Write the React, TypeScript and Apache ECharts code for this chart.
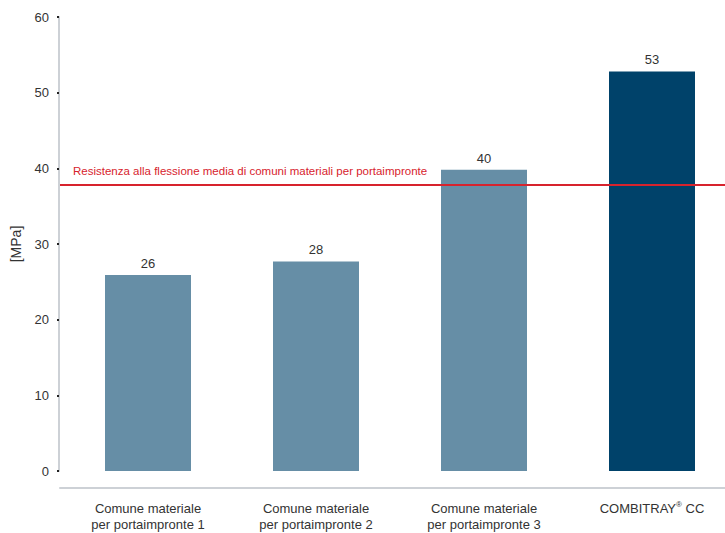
import React, { useEffect, useRef } from "react";
import * as echarts from "echarts";

const categories = [
  "Comune materiale\nper portaimpronte 1",
  "Comune materiale\nper portaimpronte 2",
  "Comune materiale\nper portaimpronte 3",
  "COMBITRAY® CC",
];
const values = [25.9, 27.7, 39.8, 52.8];
const labels = ["26", "28", "40", "53"];
const barColors = ["#668ea6", "#668ea6", "#668ea6", "#00426a"];
const referenceValue = 37.8;
const referenceLabel = "Resistenza alla flessione media di comuni materiali per portaimpronte";
const yTicks = { min: 0, max: 60, interval: 10 };

const FONT = "'Liberation Sans', Arial, sans-serif";

export default function App() {
  const ref = useRef<HTMLDivElement>(null);
  useEffect(() => {
    const chart = echarts.init(ref.current!, null, { renderer: "svg" });
    chart.setOption({
      animation: false,
      textStyle: { fontFamily: FONT },
      grid: [
        { left: 64, width: 672, top: 17, bottom: 62, outerBoundsMode: "none", containLabel: false },
        { left: 60, right: 0, top: 17, bottom: 62, outerBoundsMode: "none", containLabel: false },
      ],
      xAxis: [
        {
          type: "category",
          gridIndex: 0,
          data: categories,
          offset: 17,
          axisLine: { show: false },
          axisTick: { show: false },
          axisLabel: {
            interval: 0,
            color: "#333",
            fontSize: 13,
            lineHeight: 16,
            margin: 12,
            fontFamily: FONT,
            formatter: (v: string) =>
              v.includes("®") ? v.split("®").map((s) => `{a|${s}}`).join("{sup|®}") : v,
            rich: {
              a: { color: "#333", fontSize: 13, fontFamily: FONT, lineHeight: 16 },
              sup: { color: "#333", fontSize: 8, fontFamily: FONT, verticalAlign: "top", lineHeight: 16, padding: [0, 0, 6, 0] },
            },
          },
        },
        {
          type: "value",
          gridIndex: 1,
          min: 0,
          max: 1,
          offset: 17,
          axisLine: { show: true, onZero: false, lineStyle: { color: "#cdd1d6", width: 2 } },
          axisTick: { show: false },
          axisLabel: { show: false },
          splitLine: { show: false },
        },
      ],
      yAxis: [
        {
          type: "value",
          gridIndex: 0,
          min: yTicks.min,
          max: yTicks.max,
          interval: yTicks.interval,
          show: false,
        },
        {
          type: "value",
          gridIndex: 1,
          min: yTicks.min,
          max: yTicks.max,
          interval: yTicks.interval,
          offset: 1,
          name: "[MPa]",
          nameLocation: "middle",
          nameGap: 36,
          nameTextStyle: { color: "#333", fontSize: 14, fontFamily: FONT },
          axisLine: { show: true, onZero: false, lineStyle: { color: "#cdd1d6", width: 2 } },
          axisTick: { show: true, length: 2, lineStyle: { color: "#222", width: 2 } },
          axisLabel: { color: "#333", fontSize: 13, margin: 10, fontFamily: FONT },
          splitLine: { show: false },
        },
      ],
      series: [
        {
          type: "bar",
          xAxisIndex: 0,
          yAxisIndex: 0,
          barWidth: 86,
          data: values.map((v, i) => ({
            value: v,
            itemStyle: { color: barColors[i] },
            label: { formatter: labels[i] },
          })),
          label: {
            show: true,
            position: "top",
            distance: 5,
            color: "#333",
            fontSize: 13,
            fontFamily: FONT,
          },
          z: 2,
        },
        {
          type: "line",
          xAxisIndex: 1,
          yAxisIndex: 1,
          data: [],
          z: 5,
          markLine: {
            silent: true,
            symbol: "none",
            lineStyle: { color: "#d7232d", width: 2, type: "solid" },
            label: {
              show: true,
              position: "insideStartTop",
              formatter: referenceLabel,
              color: "#d7232d",
              fontSize: 11.5,
              fontFamily: FONT,
              distance: [13, 8],
            },
            data: [{ yAxis: referenceValue }],
          },
        },
      ],
    });
    return () => chart.dispose();
  }, []);
  return (
    <div
      ref={ref}
      style={{ position: "fixed", left: 0, top: 0, width: 725, height: 533, background: "#fff" }}
    />
  );
}
